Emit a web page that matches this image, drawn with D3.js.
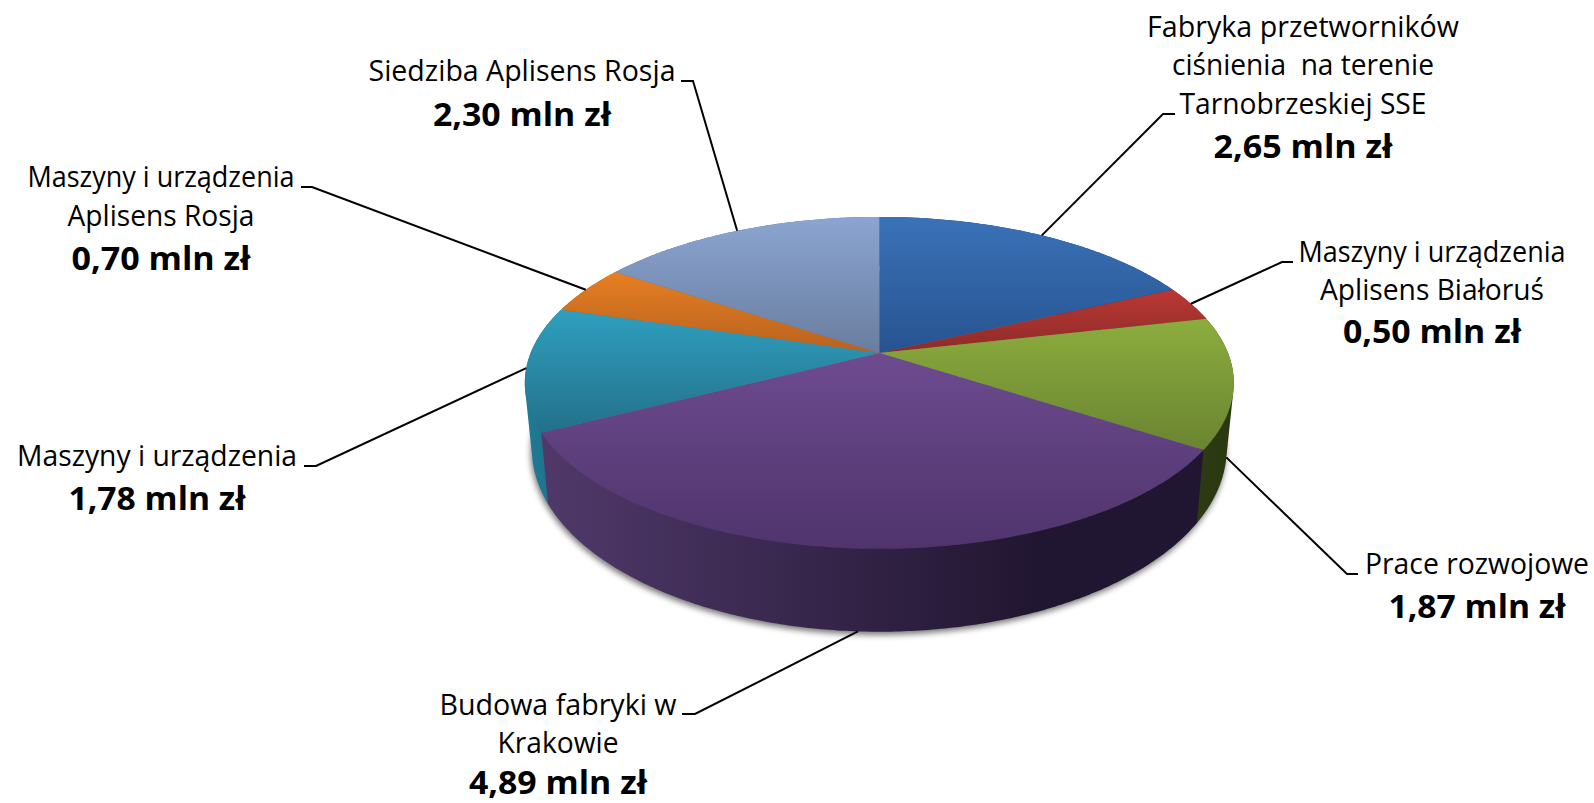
<!DOCTYPE html>
<html><head><meta charset="utf-8">
<script src="https://cdnjs.cloudflare.com/ajax/libs/d3/7.8.5/d3.min.js"></script>
<style>html,body{margin:0;padding:0;background:#fff;overflow:hidden}svg{display:block}</style>
</head><body><svg id="c" width="1594" height="803"></svg>
<script>
// ---- data ----
const categories = [
  ["Fabryka przetworników","ciśnienia  na terenie","Tarnobrzeskiej SSE"],
  ["Maszyny i urządzenia","Aplisens Białoruś"],
  ["Prace rozwojowe"],
  ["Budowa fabryki w","Krakowie"],
  ["Maszyny i urządzenia"],
  ["Maszyny i urządzenia","Aplisens Rosja"],
  ["Siedziba Aplisens Rosja"]
];
const values = [2.65,0.50,1.87,4.89,1.78,0.70,2.30];
const unit = " mln zł";
// ---- styles ----
const topLight = ["#3a72b8","#bb3733","#8cad3e","#6e4b90","#2f9fbf","#e67f22","#8ba5d2"];
const topDark  = ["#275390","#8c2b29","#6a8431","#4f346c","#23708a","#b8621f","#697d9e"];
const wallLeft = ["#1c3a66","#6a2020","#2c3b14","#50396a","#1f7a94","#a0551a","#566a8c"];
const wallRight= ["#1c3a66","#6a2020","#2a3812","#211631","#1f6f88","#a0551a","#566a8c"];
// ---- layout: label centre x, line baselines, fitted line widths ----
const labelX = [1303,1432,1477,558,157,161,522];
const labelY = [[37,75,114,158],[262,300,343],[574,618],[715,753,794],[466,510],[187,226,270],[81,126]];
const labelW = [[312,262,247,179],[267,224,178],[224,177],[237,121,178],[280,177],[267,187,179],[307,178]];
const elbows = [[[1163,114],[1175,114]],[[1282,262],[1293,262]],[[1347,574],[1358,574]],
  [[695,714],[682,714]],[[316,466],[304,466]],[[312,187],[301,187]],[[693,81],[681,81]]];
const anchorOnFloor = [false,false,true,true,false,false,false];
const anchorShift = [0,0,0.05,0,0,0,0];

const svg = d3.select("#c"), defs = svg.append("defs");
const cx = 879.3, cy = 353, persp = 0.18;
const rimTop = {rx:348.7, ry:160.6, y0:0};
const rimFloor = {rx:341.7, ry:176.9, y0:63};

function project(a, rim){
  const x = Math.sin(a), y = -Math.cos(a), d = 1 - persp*y;
  return [cx + rim.rx*x/d, cy + rim.y0 + rim.ry*y/d];
}
function arcPts(a0,a1,rim){
  const n = Math.max(2,Math.ceil((a1-a0)/0.01));
  return d3.range(n+1).map(i=>project(a0+(a1-a0)*i/n,rim));
}
const line = d3.line();
const arcs = d3.pie().sort(null).value(d=>d)(values);

arcs.forEach((s,i)=>{
  const g = defs.append("linearGradient").attr("id","t"+i).attr("x1",0).attr("y1",0).attr("x2",0).attr("y2",1);
  g.append("stop").attr("offset",0).attr("stop-color",topLight[i]);
  g.append("stop").attr("offset",1).attr("stop-color",topDark[i]);
  const w = defs.append("linearGradient").attr("id","w"+i).attr("x1",0).attr("y1",0).attr("x2",1).attr("y2",0);
  w.append("stop").attr("offset",0).attr("stop-color",wallLeft[i]);
  w.append("stop").attr("offset",i===3?0.75:1).attr("stop-color",wallRight[i]);
});
defs.append("filter").attr("id","sh").attr("x","-5%").attr("y","-5%").attr("width","110%").attr("height","110%")
  .append("feGaussianBlur").attr("stdDeviation",3);

// soft shadow under the floor disc
svg.append("path")
  .attr("d",line(arcPts(0,2*Math.PI,rimFloor))+"Z")
  .attr("transform","translate(-1,3)")
  .attr("fill","#000").attr("opacity",0.55).attr("filter","url(#sh)");

// walls, back to front: each is the hull of a slice's top and floor arcs
const order = d3.range(arcs.length).sort((a,b)=>
  (-Math.cos((arcs[a].startAngle+arcs[a].endAngle)/2))-(-Math.cos((arcs[b].startAngle+arcs[b].endAngle)/2)));
svg.append("g").selectAll("path").data(order).join("path")
  .attr("d",i=>{
    const s=arcs[i];
    return line(d3.polygonHull(arcPts(s.startAngle,s.endAngle,rimTop).concat(arcPts(s.startAngle,s.endAngle,rimFloor))))+"Z";
  })
  .attr("fill",i=>`url(#w${i})`);

// top faces
svg.append("g").selectAll("path").data(arcs).join("path")
  .attr("d",s=>line([[cx,cy]].concat(arcPts(s.startAngle,s.endAngle,rimTop)))+"Z")
  .attr("fill",(s,i)=>`url(#t${i})`);

// leaders
svg.append("g").selectAll("path").data(arcs).join("path")
  .attr("d",(s,i)=>{
    const mid=(s.startAngle+s.endAngle)/2+anchorShift[i];
    return line([project(mid,anchorOnFloor[i]?rimFloor:rimTop)].concat(elbows[i]));
  })
  .attr("fill","none").attr("stroke","#000").attr("stroke-width",2);

// labels
const labels = svg.append("g").attr("text-anchor","middle").attr("fill","#000")
  .style("font-family","'Open Sans',sans-serif");
categories.forEach((lines,i)=>{
  const all = lines.concat([values[i].toFixed(2).replace(".",",")+unit]);
  all.forEach((t,j)=>{
    const bold = j===all.length-1;
    labels.append("text")
      .attr("x",labelX[i]).attr("y",labelY[i][j])
      .attr("xml:space","preserve").style("white-space","pre")
      .attr("font-size",bold?32:29).attr("font-weight",bold?700:400)
      .attr("textLength",labelW[i][j]).attr("lengthAdjust","spacingAndGlyphs")
      .text(t);
  });
});
</script></body></html>
